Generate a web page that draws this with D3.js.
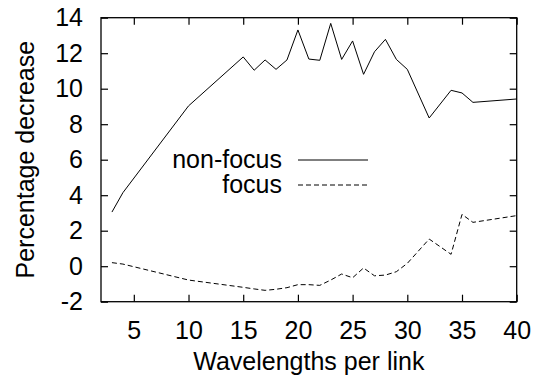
<!DOCTYPE html>
<html>
<head>
<meta charset="utf-8">
<script src="https://cdn.jsdelivr.net/npm/d3@7"></script>
<style>
  body { margin: 0; background: #fff; }
  text { font-family: "Liberation Sans", Arial, sans-serif; fill: #000; }
</style>
</head>
<body>
<div id="chart"></div>
<script>
// data
const wavelengths = [3, 4, 10, 15, 16, 17, 18, 19, 20, 21, 22, 23, 24, 25, 26, 27, 28, 29, 30, 32, 34, 35, 36, 40];
const nonFocus = [3.05, 4.14, 9.03, 11.79, 11.04, 11.62, 11.09, 11.62, 13.31, 11.67, 11.6, 13.68, 11.65, 12.69, 10.81, 12.08, 12.78, 11.65, 11.09, 8.35, 9.91, 9.76, 9.23, 9.42];
const focus = [0.2, 0.12, -0.78, -1.19, -1.28, -1.36, -1.3, -1.21, -1.04, -1.04, -1.08, -0.78, -0.44, -0.65, -0.1, -0.54, -0.5, -0.31, 0.16, 1.53, 0.67, 2.92, 2.47, 2.85];
const xTicks = [5, 10, 15, 20, 25, 30, 35, 40];
const yTicks = [-2, 0, 2, 4, 6, 8, 10, 12, 14];

const W = 541, H = 382;
const margin = {top: 17.7, right: 24.3, bottom: 80.3, left: 101};
const width = W - margin.left - margin.right,
  height = H - margin.top - margin.bottom;

const svg = d3.select("#chart")
.append("svg")
  .attr("width", W)
  .attr("height", H)
.append("g")
  .attr("transform", "translate(" + margin.left + "," + margin.top + ")");

const x = d3.scaleLinear().domain([2, 40]).range([0, width]);
const y = d3.scaleLinear().domain([-2, 14]).range([height, 0]);

const tickLen = 7;
const fontSize = 25;
const plain = d => String(d);   // keep ascii hyphen for negatives

// gnuplot-style ticks on all four sides
function styleAxis(g) {
  g.select(".domain").remove();
  g.selectAll(".tick line").attr("stroke", "#000").attr("stroke-width", 1.2);
}

svg.append("g")
  .attr("transform", "translate(0," + height + ")")
  .call(d3.axisBottom(x).tickValues(xTicks).tickSize(-tickLen).tickPadding(20).tickFormat(plain))
  .call(styleAxis)
  .call(g => g.selectAll("text").attr("font-size", fontSize).attr("dy", "0.71em"));

svg.append("g")
  .call(d3.axisTop(x).tickValues(xTicks).tickSize(-tickLen).tickFormat(""))
  .call(styleAxis);

svg.append("g")
  .call(d3.axisLeft(y).tickValues(yTicks).tickSize(-tickLen).tickFormat(plain))
  .call(styleAxis)
  .call(g => g.selectAll("text").attr("font-size", fontSize).attr("x", -18));

svg.append("g")
  .attr("transform", "translate(" + width + ",0)")
  .call(d3.axisRight(y).tickValues(yTicks).tickSize(-tickLen).tickFormat(""))
  .call(styleAxis);

// frame
svg.append("rect")
  .attr("width", width)
  .attr("height", height)
  .attr("fill", "none")
  .attr("stroke", "#000")
  .attr("stroke-width", 1.3);

// axis titles
svg.append("text")
  .attr("x", width / 2)
  .attr("y", 370 - margin.top)
  .attr("text-anchor", "middle")
  .attr("font-size", fontSize)
  .text("Wavelengths per link");

svg.append("text")
  .attr("transform", "translate(" + (34 - margin.left) + "," + (height / 2) + ") rotate(-90)")
  .attr("text-anchor", "middle")
  .attr("font-size", fontSize)
  .text("Percentage decrease");

// lines
const line = d3.line()
  .x((d, i) => x(wavelengths[i]))
  .y(d => y(d));

svg.append("path")
  .datum(nonFocus)
  .attr("fill", "none")
  .attr("stroke", "#000")
  .attr("stroke-width", 1)
  .attr("d", line);

svg.append("path")
  .datum(focus)
  .attr("fill", "none")
  .attr("stroke", "#000")
  .attr("stroke-width", 1)
  .attr("stroke-dasharray", "5,3")
  .attr("d", line);

// legend
const legend = [
  {name: "non-focus", dash: null, y: 160},
  {name: "focus", dash: "5,3", y: 185}
];
const lg = svg.append("g").attr("transform", "translate(" + (-margin.left) + "," + (-margin.top) + ")");
legend.forEach(d => {
  lg.append("text")
    .attr("x", 282)
    .attr("y", d.y + 8)
    .attr("text-anchor", "end")
    .attr("font-size", fontSize)
    .text(d.name);
  lg.append("line")
    .attr("x1", 298).attr("x2", 368)
    .attr("y1", d.y).attr("y2", d.y)
    .attr("stroke", "#000")
    .attr("stroke-width", 1)
    .attr("stroke-dasharray", d.dash);
});
</script>
</body>
</html>
